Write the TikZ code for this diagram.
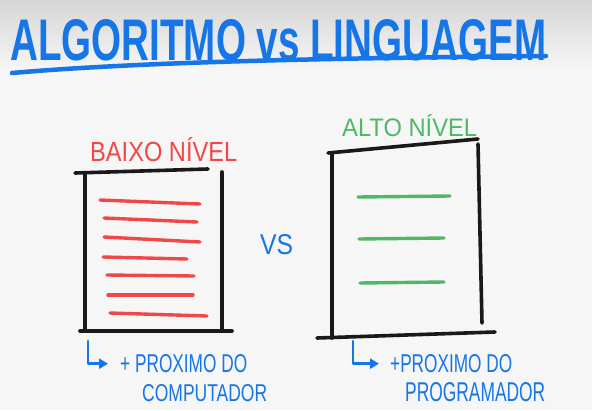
\documentclass[tikz,border=0pt]{standalone}
\usepackage{fontspec}
\setmainfont{Liberation Sans}
\usetikzlibrary{arrows.meta,positioning,calc}
\definecolor{penblue}{RGB}{22,118,232}
\definecolor{penred}{RGB}{240,72,72}
\definecolor{pengreen}{RGB}{80,184,100}
\definecolor{paper}{RGB}{246,246,246}
\newcommand{\fitto}[3]{\resizebox{#1}{#2}{#3}}

\begin{document}
\begin{tikzpicture}[x=1pt,y=-1pt,>=Stealth,
   ink/.style={line width=3.6pt,line cap=round,black!90},
   redline/.style={line width=3.4pt,line cap=round,penred},
   greenline/.style={line width=3.4pt,line cap=round,pengreen},
   word/.style={inner sep=0pt,anchor=south west},
   hook/.style={line width=2.6pt,penblue,line cap=round,line join=round,-{Triangle[length=9pt,width=10pt]}}]
  \fill[paper] (0,0) rectangle (592,410);
  \shade[top color=black!16,bottom color=paper] (0,0) rectangle (592,70);
  \useasboundingbox (0,0) rectangle (592,410);
  % title
  \node[word,text=penblue] (title) at (10,61) {\fitto{536pt}{41pt}{\bfseries ALGORITMO vs LINGUAGEM}};
  \draw[penblue,line width=4.5pt,line cap=round] (12,73) .. controls (150,61) and (350,58) .. (546,56);
  % low level
  \node[word,text=penred] (low) at (90,162) {\fitto{147pt}{24pt}{BAIXO NÍVEL}};
  \draw[ink] (75,173) -- (208,169);
  \draw[ink] (85,175) -- (85,330);
  \draw[ink] (222,172) -- (222,330);
  \draw[ink] (80,331) -- (232,331);
  \foreach \xa/\ya/\xb/\yb in {100/200/200/204,104/218/197/222,104/237/200/242,103/257/187/259,107/275/194/276,108/295/193/295,110/313/207/316}
    \draw[redline] (\xa,\ya) -- (\xb,\yb);
  % high level
  \node[word,text=pengreen] (high) at (342,137) {\fitto{135pt}{22pt}{ALTO NÍVEL}};
  \draw[ink] (328,153) -- (478,139);
  \draw[ink] (332,153) -- (332,338);
  \draw[ink] (478,144) -- (482,323);
  \draw[ink] (317,338) -- (495,332);
  \foreach \xa/\ya/\xb/\yb in {358/197/450/196,359/239/444/238,360/283/444/282}
    \draw[greenline] (\xa,\ya) -- (\xb,\yb);
  \node[word,text=penblue] (vs) at (260,255) {\fitto{33pt}{20pt}{VS}};
  % notes
  \node[word,text=penblue] (near1) at (120,373) {\fitto{127pt}{18pt}{+ PROXIMO DO}};
  \node[word,text=penblue] (comp) at (142,402) {\fitto{125pt}{17pt}{COMPUTADOR}};
  \node[word,text=penblue] (near2) at (390,373) {\fitto{122pt}{18pt}{+PROXIMO DO}};
  \node[word,text=penblue] (prog) at (405,402) {\fitto{140pt}{19pt}{PROGRAMADOR}};
  \coordinate (h1) at (88,341);
  \coordinate (h2) at (353,341);
  \draw[hook,shorten >=12pt] (h1) |- (near1.west);
  \draw[hook,shorten >=11pt] (h2) |- (near2.west);
\end{tikzpicture}
\end{document}
